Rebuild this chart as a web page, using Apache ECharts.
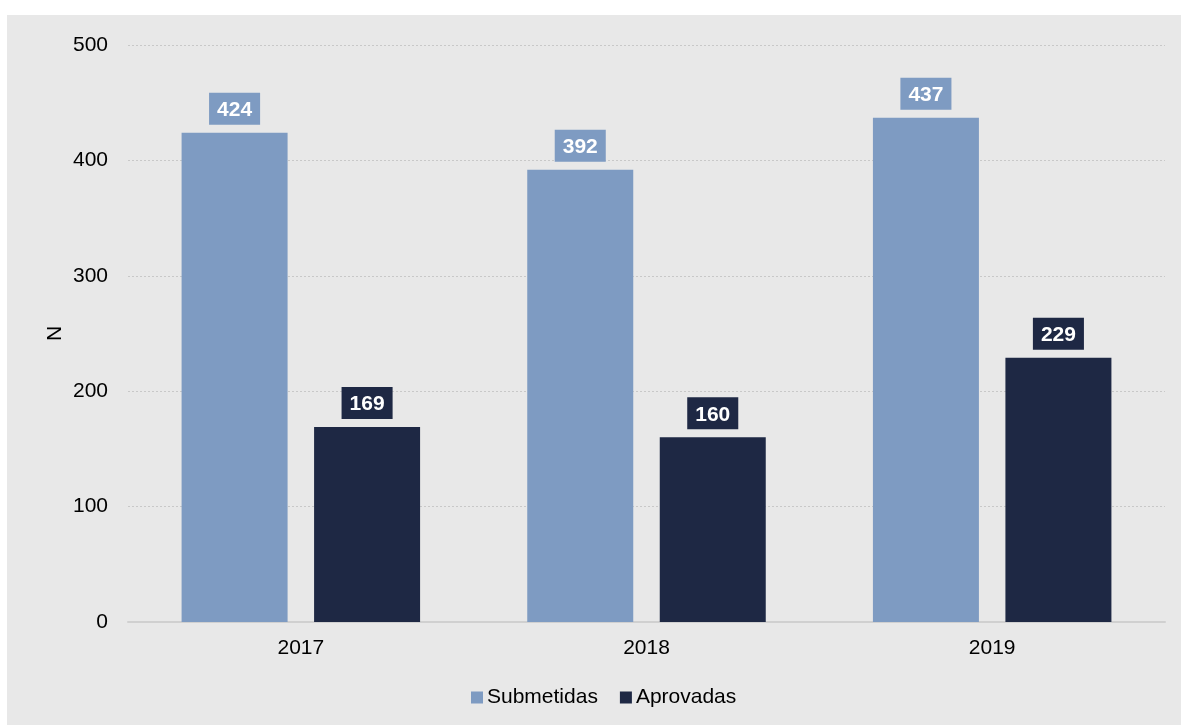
<!DOCTYPE html>
<html>
<head>
<meta charset="utf-8">
<script src="https://cdn.jsdelivr.net/npm/echarts@6/dist/echarts.min.js"></script>
<style>
    body { margin: 0; background: #ffffff; }
    #chart { position: absolute; left: 7px; top: 15px; width: 1174px; height: 710px; background: #e8e8e8; }
</style>
</head>
<body>
<div id="chart"></div>
<script>
// dados
var anos = ['2017', '2018', '2019']
var submetidas = [424, 392, 437]
var aprovadas = [169, 160, 229]
var yTicks = [0, 100, 200, 300, 400, 500]

var corClara = '#7e9bc2'
var corEscura = '#1e2844'
var fonte = '"Liberation Sans", Arial, sans-serif'

function rotulo(cor) {
    return {
        show: true,
        position: 'top',
        distance: 8,
        color: '#ffffff',
        fontWeight: 'bold',
        fontSize: 21,
        fontFamily: fonte,
        backgroundColor: cor,
        padding: [7, 8, 4, 8]
    }
}

var myChart = echarts.init(document.getElementById('chart'))
myChart.setOption({
    backgroundColor: '#e8e8e8',
    textStyle: {fontFamily: fonte},
    grid: {left: 121, right: 16, top: 30, bottom: 103},
    legend: {
        bottom: 12,
        left: 459,
        itemWidth: 12,
        itemHeight: 12,
        itemGap: 22,
        icon: 'rect',
        textStyle: {fontSize: 21, color: '#000', fontFamily: fonte, padding: [0, 0, 0, -1]},
        data: ['Submetidas', 'Aprovadas']
    },
    xAxis: {
        type: 'category',
        data: anos,
        axisTick: {show: false},
        axisLine: {lineStyle: {color: '#d0d0d0', width: 2}},
        axisLabel: {fontSize: 21, color: '#000', margin: 16}
    },
    yAxis: {
        type: 'value',
        min: yTicks[0],
        max: yTicks[yTicks.length - 1],
        interval: 100,
        name: 'N',
        nameLocation: 'middle',
        nameRotate: 90,
        nameGap: 62,
        nameMoveOverlap: false,
        nameTextStyle: {fontSize: 21, color: '#000'},
        axisLine: {show: false},
        axisTick: {show: false},
        axisLabel: {fontSize: 21, color: '#000', margin: 20},
        splitLine: {lineStyle: {color: '#c8c8c8', type: [2, 2], width: 1}}
    },
    series: [
        {
            name: 'Submetidas',
            type: 'bar',
            data: submetidas,
            barWidth: 106,
            barGap: '25%',
            itemStyle: {color: corClara},
            label: rotulo(corClara)
        },
        {
            name: 'Aprovadas',
            type: 'bar',
            data: aprovadas,
            barWidth: 106,
            itemStyle: {color: corEscura},
            label: rotulo(corEscura)
        }
    ]
})
</script>
</body>
</html>
